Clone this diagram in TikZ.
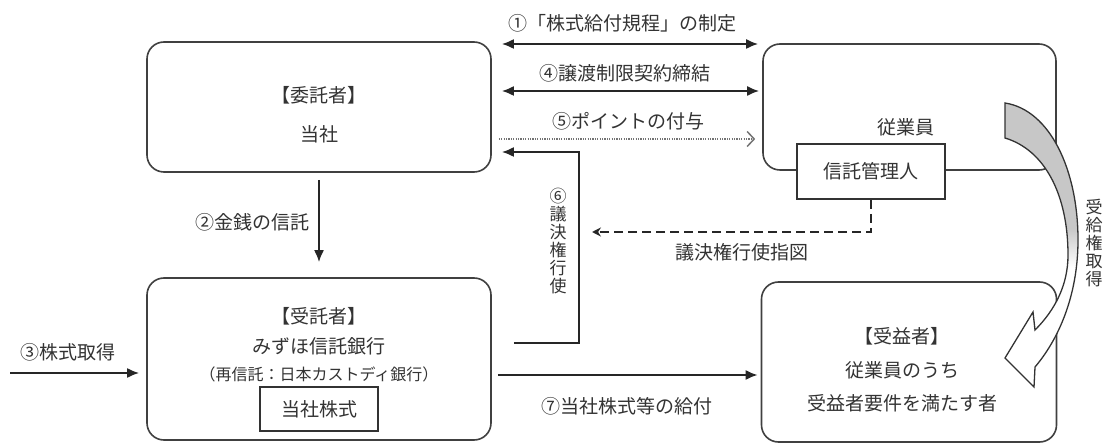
\documentclass[tikz,border=0pt]{standalone}
\usepackage{fontspec}
\newfontfamily\jp{Noto Sans CJK JP}
\usetikzlibrary{arrows.meta}
\pgfdeclareverticalshading{grayfade}{100bp}{color(0bp)=(white); color(46bp)=(white); color(53bp)=(black!22); color(100bp)=(black!22)}
\begin{document}
\begin{tikzpicture}[x=1pt,y=-1pt,
  rbox/.style={draw=black!75,line width=1.6pt,rounded corners=17pt,inner sep=0pt},
  sbox/.style={draw=black!80,line width=1.6pt,fill=white,inner sep=0pt},
  lbl/.style={font=\jp\fontsize{19}{19}\selectfont,text=black!80,inner sep=0pt},
  slbl/.style={font=\jp\fontsize{16}{16}\selectfont,text=black!80,inner sep=0pt},
  vlbl/.style={font=\jp\fontsize{17}{18}\selectfont,text=black!80,align=center,inner sep=0pt},
  arr/.style={line width=2pt,draw=black!85,-{Latex[length=12pt,width=10pt]}},
  darr/.style={line width=2pt,draw=black!85,{Latex[length=12pt,width=10pt]}-{Latex[length=12pt,width=10pt]}},
  dotarr/.style={line width=1.5pt,draw=black!55,dash pattern=on 1.2pt off 1.2pt,-{Straight Barb[length=7pt,width=15pt,line width=1.5pt]}},
  dasharr/.style={line width=1.6pt,draw=black!85,dash pattern=on 9pt off 5pt,-{Stealth[length=9pt,width=9pt]}}
]
\useasboundingbox (0,0) rectangle (1105,443);

% boxes
\node[rbox,minimum width=344pt,minimum height=130pt] (itaku) at (319,107) {};
\node[rbox,minimum width=344pt,minimum height=162pt] (jutaku) at (319,359) {};
\node[rbox,minimum width=293pt,minimum height=126pt] (jugyo) at (909.5,107) {};
\node[rbox,minimum width=295pt,minimum height=160pt] (jueki) at (909,362) {};
\node[sbox,lbl,minimum width=148pt,minimum height=55pt] (kanri) at (871,171.5) {信託管理人};
\node[sbox,lbl,fill=none,minimum width=118pt,minimum height=44pt] (kabu) at (319,409) {当社株式};

% box texts
\node[lbl] (t1) at (319,95) {【委託者】};
\node[lbl] (t2) at (319,134) {当社};
\node[lbl] (t3) at (319,316) {【受託者】};
\node[lbl] (t4) at (319,346) {みずほ信託銀行};
\node[slbl] (t5) at (319,374) {（再信託：日本カストディ銀行）};
\node[lbl] (t6) at (906,127) {従業員};
\node[lbl] (t7) at (902,336) {【受益者】};
\node[lbl] (t8) at (902,370) {従業員のうち};
\node[lbl] (t9) at (902,403) {受益者要件を満たす者};

% arrows
\draw[darr] ([shift={(10,-63)}]itaku.east) -- ([shift={(-4,-63)}]jugyo.west);
\draw[darr] ([shift={(10,-16)}]itaku.east) -- ([shift={(-3,-16)}]jugyo.west);
\draw[dotarr] ([shift={(7,32)}]itaku.east) -- ([shift={(-7,32)}]jugyo.west);
\draw[arr] ([shift={(22,-16)}]jutaku.east) -| ([shift={(87,45)}]itaku.east) -- ([shift={(10,45)}]itaku.east);
\draw[arr] ([shift={(0,7)}]itaku.south) -- ([shift={(0,-15)}]jutaku.north);
\coordinate (src) at (10,373);
\draw[arr] (src) -- ([shift={(-7,14)}]jutaku.west);
\draw[arr] ([shift={(6,16)}]jutaku.east) -- ([shift={(-3,13)}]jueki.west);
\coordinate (dtip) at (592,232);
\draw[dasharr] (kanri.south) |- (dtip);

% curved arrow
\shadedraw[shading=grayfade,draw=black!80,line width=1.3pt,line join=miter]
  (1005,103) .. controls (1050,110) and (1078,170) .. (1078,240)
  .. controls (1078,290) and (1062,335) .. (1035,367)
  -- (1034,387) -- (1005,358) -- (1033,312) -- (1035,330)
  .. controls (1055,310) and (1068,285) .. (1068,255)
  .. controls (1068,195) and (1045,150) .. (1005,138) -- cycle;

% labels
\node[lbl] (l1) at (622,23) {①「株式給付規程」の制定};
\node[lbl] (l4) at (625,73) {④譲渡制限契約締結};
\node[lbl] (l5) at (628,121) {⑤ポイントの付与};
\node[lbl] (l2) at (252,222) {②金銭の信託};
\node[lbl] (l3) at (68,352) {③株式取得};
\node[lbl] (l7) at (627,406) {⑦当社株式等の給付};
\node[lbl] (lg) at (742,252) {議決権行使指図};
\node[vlbl] (l6) at (558,241) {⑥\\議\\決\\権\\行\\使};
\node[vlbl] (lr) at (1094,243) {受\\給\\権\\取\\得};
\end{tikzpicture}
\end{document}
